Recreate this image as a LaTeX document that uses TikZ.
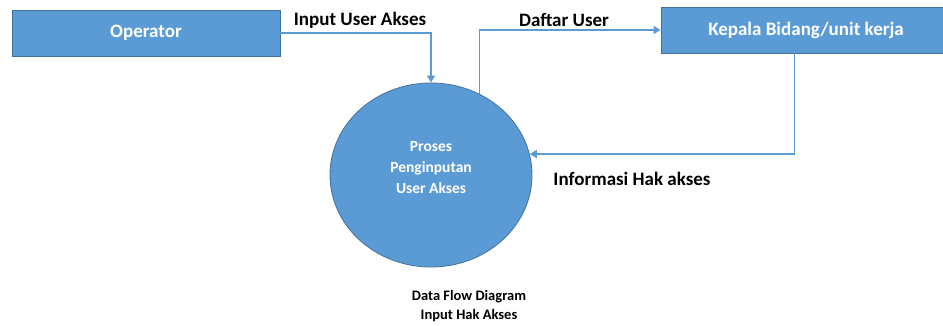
\documentclass[tikz,border=0pt]{standalone}
\usepackage{fontspec}
\setmainfont{Carlito}
\usetikzlibrary{shapes.geometric,arrows.meta,calc}
\definecolor{fillblue}{HTML}{5B9BD5}
\definecolor{edgeblue}{HTML}{41719C}
\definecolor{lineblue}{HTML}{5B9BD5}
\begin{document}
\begin{tikzpicture}[x=1pt,y=-1pt,
  entity/.style={draw=edgeblue,line width=0.8pt,fill=fillblue,text=white,font=\fontsize{19}{22}\selectfont\bfseries,inner sep=0pt},
  procnode/.style={ellipse,draw=edgeblue,line width=0.8pt,fill=fillblue,inner sep=0pt,minimum width=202pt,minimum height=184pt},
  proctext/.style={text=white,font=\fontsize{15.5}{21}\selectfont\bfseries,align=center,inner sep=0pt},
  flow/.style={draw=lineblue,line width=1.6pt,-{Triangle[width=8pt,length=7pt]}},
  flowlabel/.style={font=\fontsize{19}{22}\selectfont\bfseries,text=black,inner sep=0pt},
  caption/.style={font=\fontsize{14.5}{19}\selectfont\bfseries,align=center,inner sep=0pt}]
\useasboundingbox (0,0) rectangle (943,326);
\node[entity,minimum width=268pt,minimum height=46pt] (op) at (146,33) {Operator};
\node[entity,minimum width=290pt,minimum height=46pt] (kep) at (806,30) {};
\node[font=\fontsize{19}{22}\selectfont\bfseries,text=white] (keptext) at (806,30) {Kepala Bidang/unit kerja};
\node[procnode] (proc) at (431,175) {};
\node[proctext] (ptext) at (431,168) {Proses\\Penginputan\\User Akses};
\coordinate (kepout) at ($(kep.south west)+(134,0)$);
\draw[flow] (op.east) -| (proc.north);
\draw[flow] (proc.59.4) |- (kep.west);
\draw[flow] (kepout) |- (proc.12.7);
\node[flowlabel] (l1) at (360,20) {Input User Akses};
\node[flowlabel] (l2) at (564,20) {Daftar User};
\node[flowlabel] (l3) at (632,179) {Informasi Hak akses};
\node[caption] (cap) at (469,306) {Data Flow Diagram\\Input Hak Akses};
\end{tikzpicture}
\end{document}
